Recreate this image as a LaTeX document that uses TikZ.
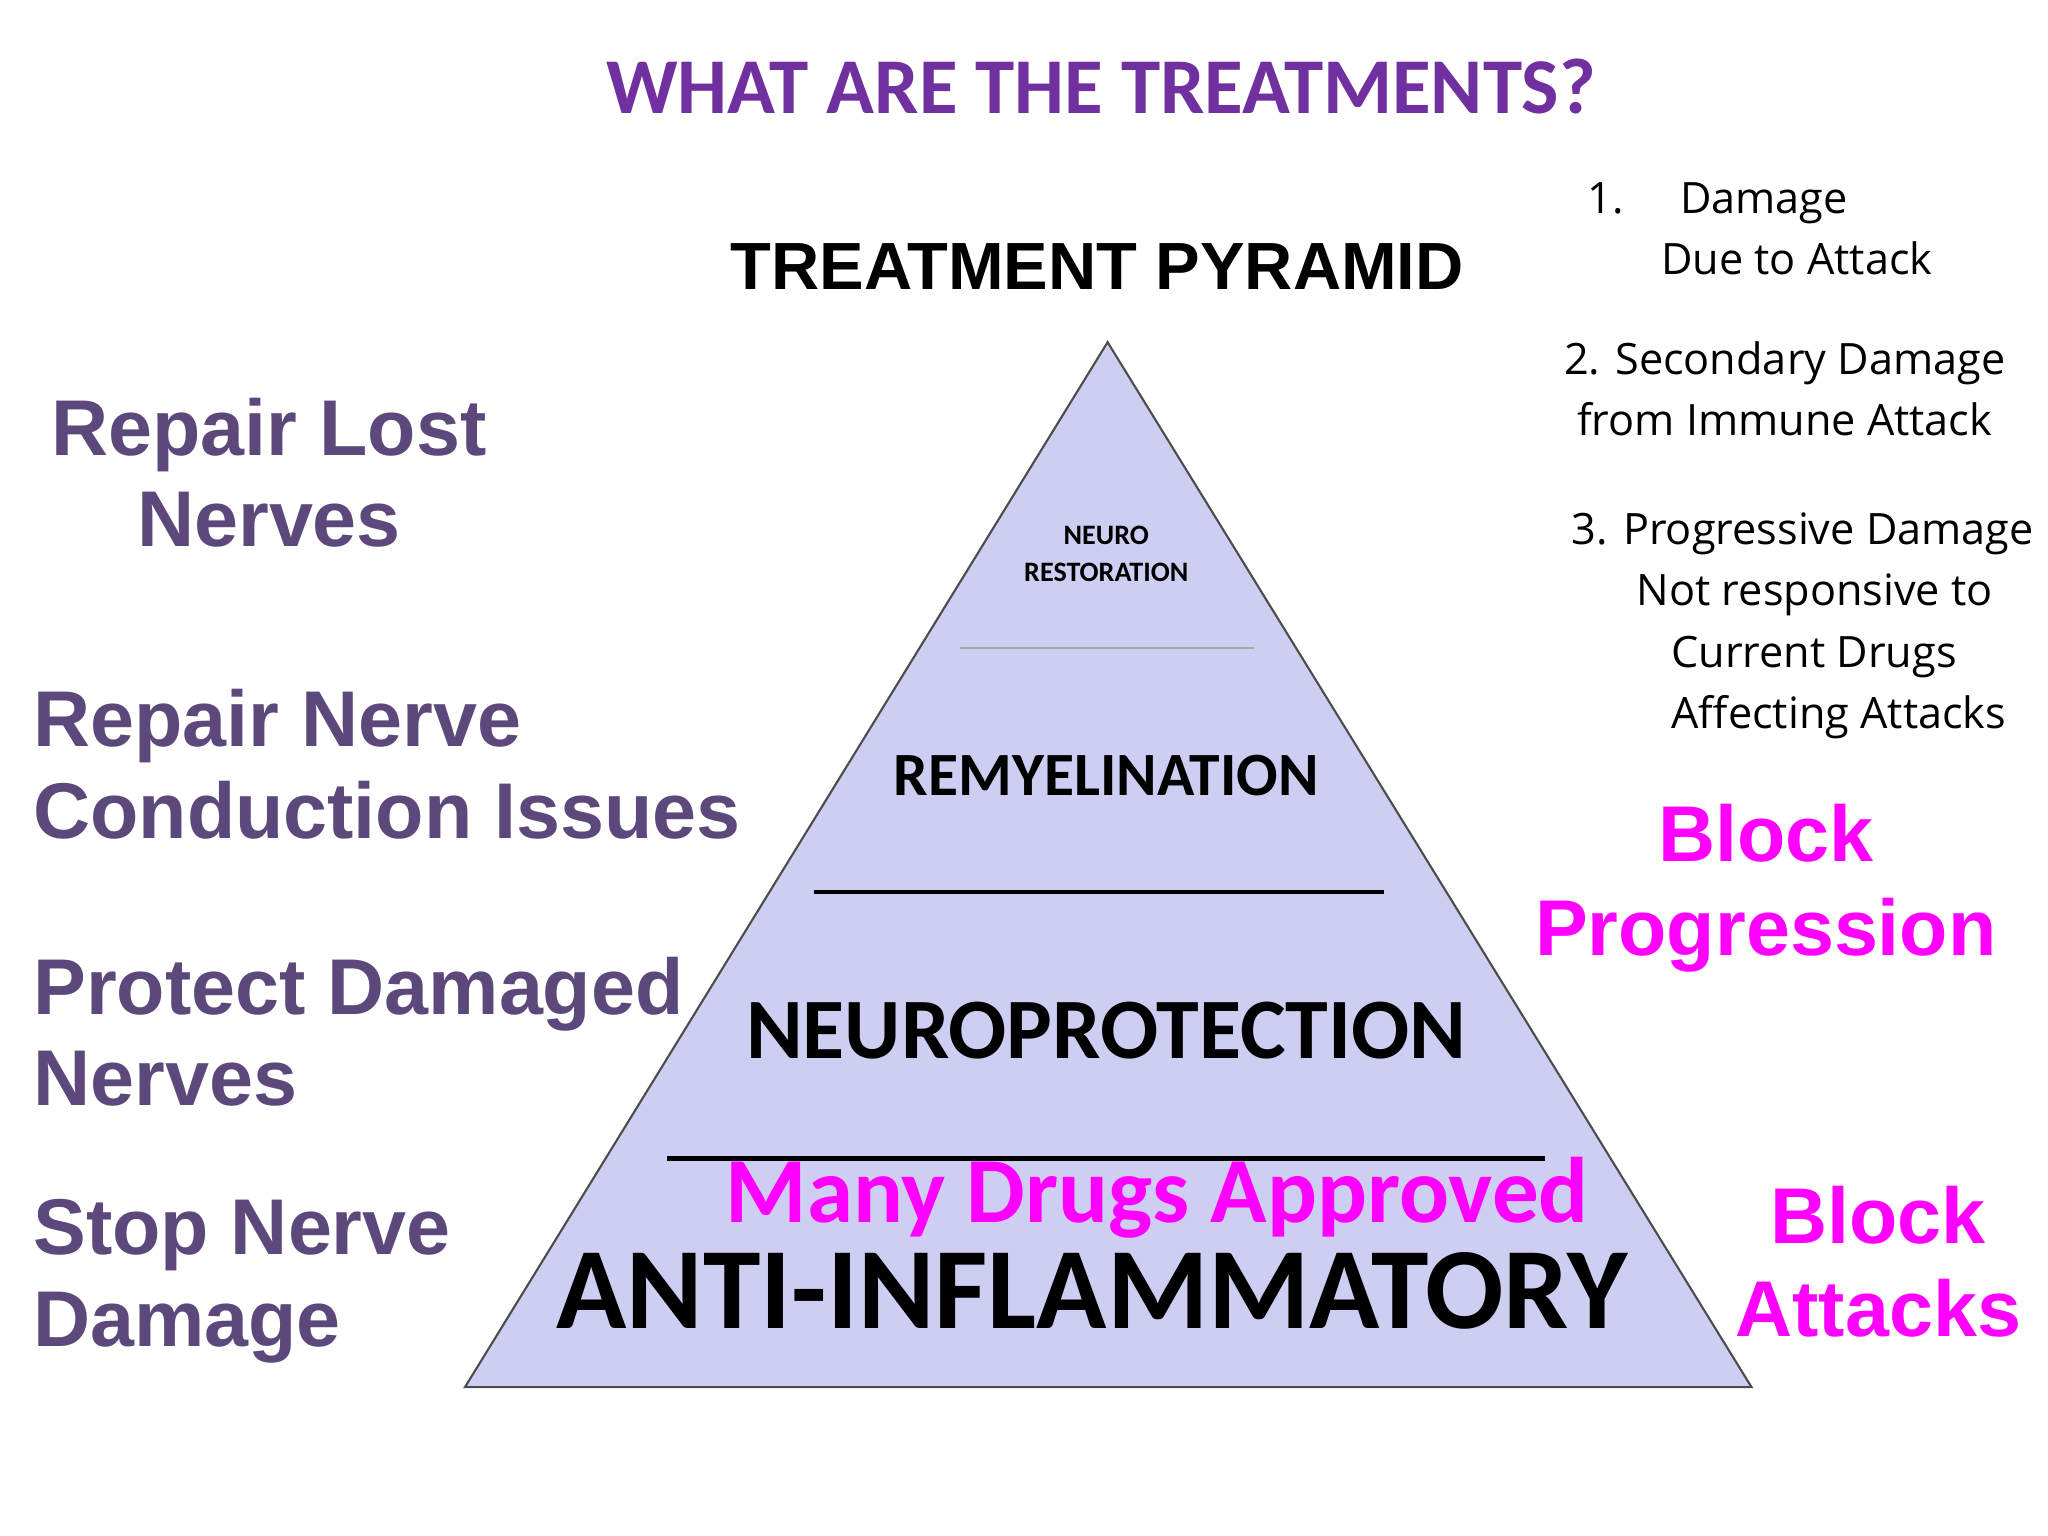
\documentclass[tikz,border=0pt]{standalone}
\usepackage{fontspec}
\setmainfont{Liberation Sans}
\newfontfamily\cali{Carlito}
\newfontfamily\opsans{Open Sans}
\usepackage{tikz}
\definecolor{ttlpurple}{RGB}{112,48,160}
\definecolor{lblpurple}{RGB}{92,72,122}
\definecolor{pyrfill}{RGB}{206,206,242}
\definecolor{hotpink}{RGB}{255,0,255}
\begin{document}
\begin{tikzpicture}[x=0.01306cm,y=-0.01306cm,
  leftlbl/.style={anchor=west,align=left,text=lblpurple,font=\fontsize{22.5}{26}\selectfont\bfseries},
  rightlbl/.style={anchor=north west,align=left,font=\opsans\fontsize{12.3}{17.5}\selectfont},
  pinklbl/.style={align=center,text=hotpink,font=\fontsize{22.5}{26.5}\selectfont\bfseries}]
\useasboundingbox (0,0) rectangle (1568,1176);
% pyramid
\draw[fill=pyrfill,draw=gray!60!black,line width=0.6pt] (848,262) -- (1341,1062) -- (356,1062) -- cycle;
\draw[gray!70,line width=0.6pt] (735,496) -- (960,496);
\draw[black,line width=0.9pt] (623,683) -- (1060,683);
\draw[black,line width=1.5pt] (511,887) -- (1183,887);
\node[text=ttlpurple,font=\cali\fontsize{22.5}{24}\selectfont\bfseries] (title) at (843,66) {WHAT ARE THE TREATMENTS?};
\node[font=\fontsize{19}{22}\selectfont\bfseries] (pyrtitle) at (840,204) {TREATMENT PYRAMID};
\node[align=center,font=\cali\fontsize{8}{10.5}\selectfont\bfseries] (restore) at (847,424) {NEURO\\RESTORATION};
\node[font=\cali\fontsize{17.5}{20}\selectfont\bfseries] (remye) at (847,594) {REMYELINATION};
\node[font=\cali\fontsize{24.5}{28}\selectfont\bfseries] (protect) at (847,789) {NEUROPROTECTION};
\node[text=hotpink,font=\cali\fontsize{26.5}{30}\selectfont\bfseries] (drugs) at (886,917) {Many Drugs Approved};
\node[font=\cali\fontsize{33}{36}\selectfont\bfseries] (antiinf) at (836,988) {ANTI-INFLAMMATORY};
% left column
\node[leftlbl,align=center] (lost) at (30,362) {Repair Lost\\Nerves};
\node[leftlbl] (conduct) at (16,585) {Repair Nerve\\Conduction Issues};
\node[leftlbl] (damaged) at (16,790) {Protect Damaged\\Nerves};
\node[leftlbl] (stop) at (16,981) {Stop Nerve\\Damage};
% right column
\node[rightlbl] (first) at (1206,130) {1.\hspace{1.3em}Damage\\\hspace{1.7em}Due to Attack};
\node[rightlbl] (second) at (1188,252) {2. Secondary Damage\\\hspace{0.3em}from Immune Attack};
\node[rightlbl] (third) at (1194,383) {3. Progressive Damage\\\hspace{1.5em}Not responsive to\\\hspace{2.3em}Current Drugs\\\hspace{2.3em}Affecting Attacks};
\node[pinklbl] (progr) at (1352,680) {Block\\Progression};
\node[pinklbl] (attacks) at (1438,966) {Block\\Attacks};
\end{tikzpicture}
\end{document}
